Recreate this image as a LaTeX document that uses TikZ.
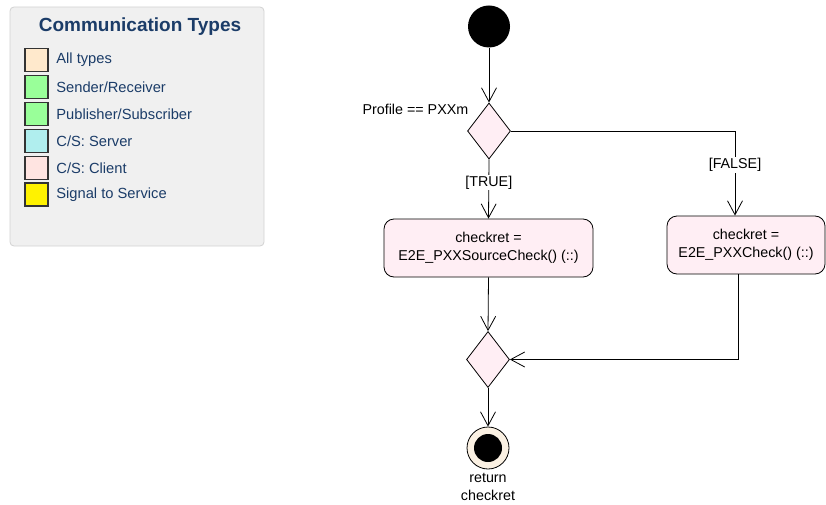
\documentclass[tikz,border=0pt]{standalone}
\usepackage{fontspec}
\setmainfont{Liberation Sans}
\usetikzlibrary{shapes.geometric,arrows.meta}
\definecolor{legendtext}{HTML}{1B3C68}
\definecolor{legendfill}{HTML}{F0F0F0}
\definecolor{legendline}{HTML}{D2D2D2}
\definecolor{actfill}{HTML}{FFEEF4}
\definecolor{endfill}{HTML}{FBF1E3}
\begin{document}
\begin{tikzpicture}[x=1pt,y=-1pt,font=\fontsize{14.3}{18}\selectfont]
\tikzstyle{every path}=[line width=0.8pt]
\tikzstyle{flow}=[-{Straight Barb[length=14pt,width=15pt]}]
\tikzstyle{swatch}=[draw=black!80, line width=1.2pt, minimum size=23pt, inner sep=0pt]
\tikzstyle{legendentry}=[anchor=west, text=legendtext, inner sep=0pt, font=\fontsize{14.7}{18}\selectfont]
\tikzstyle{decision}=[diamond, draw, fill=actfill, minimum width=43pt, minimum height=56pt, inner sep=0pt]
\tikzstyle{action}=[draw, fill=actfill, rounded corners=10pt, minimum height=58pt, align=center]
\tikzstyle{guard}=[fill=white, inner sep=1pt]
\useasboundingbox (0,0) rectangle (826,505);
%
% legend
\draw[legendline, fill=legendfill, rounded corners=4pt] (10,7) rectangle (264,246);
\node[text=legendtext, font=\fontsize{19}{22}\selectfont\bfseries] at (140,27) (title) {Communication Types};
\node[swatch, fill={rgb,255:red,255;green,233;blue,204}] at (36.5,60) (s1) {};
\node[legendentry] at (56,60) (t1) {All types};
\node[swatch, fill={rgb,255:red,153;green,255;blue,153}] at (36.5,87) (s2) {};
\node[legendentry] at (56,87) (t2) {Sender/Receiver};
\node[swatch, fill={rgb,255:red,153;green,255;blue,153}] at (36.5,114) (s3) {};
\node[legendentry] at (56,114) (t3) {Publisher/Subscriber};
\node[swatch, fill={rgb,255:red,176;green,238;blue,238}] at (36.5,141) (s4) {};
\node[legendentry] at (56,141) (t4) {C/S: Server};
\node[swatch, fill={rgb,255:red,255;green,228;blue,225}] at (36.5,168) (s5) {};
\node[legendentry] at (56,168) (t5) {C/S: Client};
\node[swatch, fill=yellow] at (36.5,194.5) (s6) {};
\node[legendentry] at (56,194.5) (t6) {Signal to Service};
%
% activity
\node[circle, fill=black, minimum size=42pt, inner sep=0pt] at (489,26.5) (start) {};
\node[decision] at (489,131) (d1) {};
\node[anchor=east] at (472,109) (cond) {Profile == PXXm};
\node[action, minimum width=209pt] at (488.5,248) (b1) {checkret =\\E2E\_PXXSourceCheck() (::)};
\node[action, minimum width=158pt] at (746,245) (b2) {checkret =\\E2E\_PXXCheck() (::)};
\node[decision] at (488,359.5) (d2) {};
\node[circle, draw, fill=endfill, minimum size=42pt, inner sep=0pt] at (488,448) (fin) {};
\node[circle, fill=black, minimum size=28pt, inner sep=0pt] at (fin) (findot) {};
\node[align=center, anchor=north] at (488,470) (ret) {return\\checkret};
%
\draw[flow] (start.south) -- (d1.north);
\draw[flow] (d1.south) -- node[guard, pos=0.39] {[TRUE]} (b1.north);
\draw[flow] (d1.east) -| node[guard, pos=0.7] {[FALSE]} ([xshift=-11pt]b2.north);
\draw[flow] (b1.south) -- (d2.north);
\draw[flow] ([xshift=-8pt]b2.south) |- (d2.east);
\draw[flow] (d2.south) -- (fin.north);
\end{tikzpicture}
\end{document}
